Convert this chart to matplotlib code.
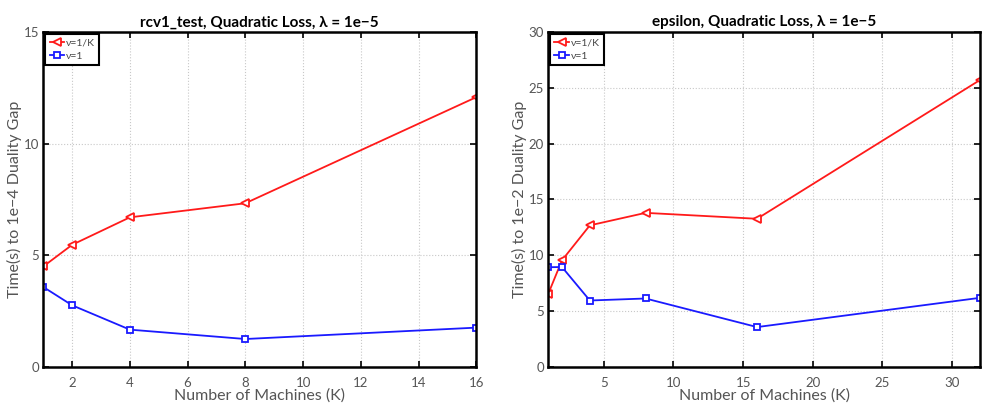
import matplotlib
matplotlib.use("Agg")
import matplotlib.pyplot as plt

plt.rcParams["font.family"] = ["Lato", "DejaVu Sans"]

# rcv1_test data
rcv1_k = [1, 2, 4, 8, 16]
rcv1_nu_inv_k = [4.5, 5.47, 6.7, 7.33, 12.08]
rcv1_nu_one = [3.58, 2.76, 1.67, 1.25, 1.76]

# epsilon data
eps_k = [1, 2, 4, 8, 16, 32]
eps_nu_inv_k = [6.5, 9.55, 12.68, 13.8, 13.27, 25.7]
eps_nu_one = [8.93, 8.95, 5.95, 6.13, 3.57, 6.19]

rcv1_xticks = [2, 4, 6, 8, 10, 12, 14, 16]
rcv1_yticks = [0, 5, 10, 15]
eps_xticks = [5, 10, 15, 20, 25, 30]
eps_yticks = [0, 5, 10, 15, 20, 25, 30]

RED = "#ff1a1a"
BLUE = "#1a1aff"
TICK_GRAY = "#555555"


def style_axis(ax, title, ylabel, xlim, ylim, xticks, yticks):
    ax.set_xlim(*xlim)
    ax.set_ylim(*ylim)
    ax.set_xticks(xticks)
    ax.set_yticks(yticks)
    ax.set_title(title, fontsize=11, fontweight="bold", pad=4)
    ax.set_xlabel("Number of Machines (K)", fontsize=11.5, color="#555555", labelpad=0)
    ax.set_ylabel(ylabel, fontsize=11.5, color="#555555", labelpad=1)
    ax.grid(True, linestyle=":", color="#c8c8c8", linewidth=0.8)
    ax.tick_params(direction="in", top=True, right=True, length=4, width=1.2,
                   labelsize=9.5, labelcolor=TICK_GRAY)
    ax.tick_params(axis="x", pad=7)
    ax.tick_params(axis="y", pad=3)
    for spine in ax.spines.values():
        spine.set_linewidth(1.8)
    leg = ax.legend(loc="upper left", fontsize=7.5, handlelength=1.4,
                    handletextpad=0.2, borderpad=0.4, labelspacing=0.4,
                    borderaxespad=0.2, fancybox=False, framealpha=1)
    leg.get_frame().set_edgecolor("black")
    leg.get_frame().set_linewidth(1.5)
    for txt in leg.get_texts():
        txt.set_color("#444444")


fig = plt.figure(figsize=(9.93, 4.05), dpi=100)
ax1 = fig.add_axes([0.0436, 0.094, 0.436, 0.827])
ax2 = fig.add_axes([0.5519, 0.094, 0.435, 0.827])

ax1.plot(rcv1_k, rcv1_nu_inv_k, color=RED, marker="<", markersize=5.5,
         markerfacecolor="white", markeredgewidth=1.3, linewidth=1.3, label="ν=1/K")
ax1.plot(rcv1_k, rcv1_nu_one, color=BLUE, marker="s", markersize=4.5,
         markerfacecolor="white", markeredgewidth=1.3, linewidth=1.3, label="ν=1")
style_axis(ax1, "rcv1_test, Quadratic Loss, λ = 1e−5",
           "Time(s) to 1e−4 Duality Gap", (1, 16), (0, 15), rcv1_xticks, rcv1_yticks)

ax2.plot(eps_k, eps_nu_inv_k, color=RED, marker="<", markersize=5.5,
         markerfacecolor="white", markeredgewidth=1.3, linewidth=1.3, label="ν=1/K")
ax2.plot(eps_k, eps_nu_one, color=BLUE, marker="s", markersize=4.5,
         markerfacecolor="white", markeredgewidth=1.3, linewidth=1.3, label="ν=1")
style_axis(ax2, "epsilon, Quadratic Loss, λ = 1e−5",
           "Time(s) to 1e−2 Duality Gap", (1, 32), (0, 30), eps_xticks, eps_yticks)

fig.savefig("out.png", dpi=100)
